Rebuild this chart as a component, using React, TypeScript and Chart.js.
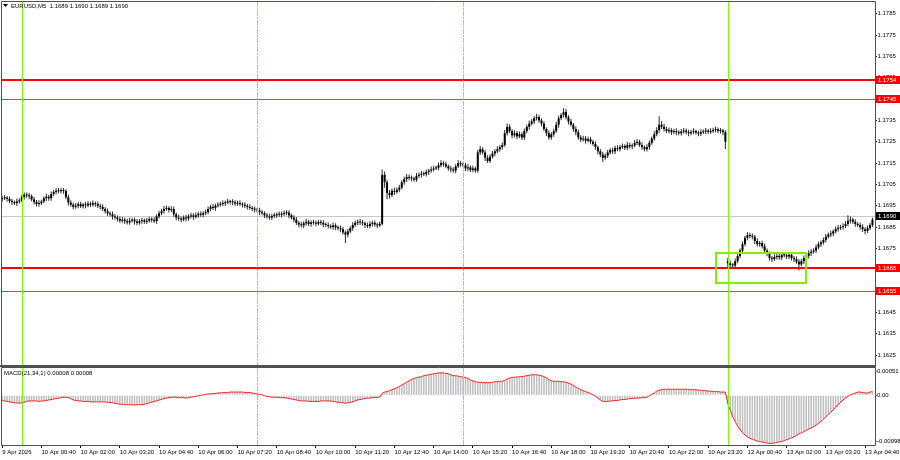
import React, { useEffect, useRef } from "react";
import { Chart, registerables } from "chart.js";

Chart.register(...registerables);

const FONT_FAMILY = "'Liberation Sans', Arial, sans-serif";
const FONT_SIZE = 6;

const symbolTitle = "EURUSD,M5";
const lastQuote = "1.1689 1.1690 1.1689 1.1690";
const macdTitle = "MACD(21,34,1) 0.00008 0.00008";

// time axis labels, one every 16 five-minute bars
const timeLabels = [
  "9 Apr 2026", "10 Apr 00:40", "10 Apr 02:00", "10 Apr 03:20", "10 Apr 04:40", "10 Apr 06:00",
  "10 Apr 07:20", "10 Apr 08:40", "10 Apr 10:00", "10 Apr 11:20", "10 Apr 12:40", "10 Apr 14:00",
  "10 Apr 15:20", "10 Apr 16:40", "10 Apr 18:00", "10 Apr 19:20", "10 Apr 20:40", "10 Apr 22:00",
  "10 Apr 23:20", "13 Apr 00:40", "13 Apr 02:00", "13 Apr 03:20", "13 Apr 04:40",
];
const barsPerLabel = 16;

const priceTicks = [
  1.1625, 1.1635, 1.1645, 1.1655, 1.1665, 1.1675, 1.1685, 1.1695, 1.1705,
  1.1715, 1.1725, 1.1735, 1.1745, 1.1755, 1.1765, 1.1775, 1.1785,
];
const macdTicks = [0.00051, 0, -0.00098];

const opens = [
  1.16980, 1.16985, 1.16988, 1.16982, 1.16972, 1.16968, 1.16962, 1.16970, 1.16975, 1.16990,
  1.17002, 1.16998, 1.16995, 1.16980, 1.16968, 1.16958, 1.16962, 1.16970, 1.16985, 1.16992,
  1.16985, 1.17005, 1.17015, 1.17020, 1.17018, 1.17022, 1.17019, 1.16990, 1.16965, 1.16955,
  1.16945, 1.16950, 1.16958, 1.16948, 1.16955, 1.16952, 1.16960, 1.16955, 1.16962, 1.16958,
  1.16950, 1.16945, 1.16935, 1.16925, 1.16915, 1.16910, 1.16900, 1.16895, 1.16888, 1.16880,
  1.16885, 1.16878, 1.16872, 1.16880, 1.16885, 1.16876, 1.16870, 1.16878, 1.16882, 1.16875,
  1.16880, 1.16888, 1.16884, 1.16878, 1.16900, 1.16915, 1.16925, 1.16935, 1.16940, 1.16930,
  1.16935, 1.16910, 1.16895, 1.16890, 1.16885, 1.16895, 1.16890, 1.16900, 1.16905, 1.16898,
  1.16905, 1.16912, 1.16908, 1.16915, 1.16920, 1.16935, 1.16945, 1.16940, 1.16950, 1.16955,
  1.16958, 1.16962, 1.16965, 1.16970, 1.16968, 1.16966, 1.16960, 1.16963, 1.16958, 1.16955,
  1.16950, 1.16945, 1.16940, 1.16935, 1.16932, 1.16928, 1.16920, 1.16915, 1.16905, 1.16900,
  1.16895, 1.16902, 1.16905, 1.16910, 1.16908, 1.16912, 1.16915, 1.16918, 1.16905, 1.16895,
  1.16885, 1.16870, 1.16862, 1.16858, 1.16868, 1.16875, 1.16865, 1.16872, 1.16870, 1.16866,
  1.16874, 1.16870, 1.16862, 1.16860, 1.16855, 1.16850, 1.16858, 1.16848, 1.16845, 1.16840,
  1.16825, 1.16815, 1.16830, 1.16845, 1.16860, 1.16870, 1.16875, 1.16872, 1.16868, 1.16860,
  1.16855, 1.16865, 1.16870, 1.16862, 1.16858, 1.16865, 1.17095, 1.17060, 1.17010, 1.17000,
  1.17020, 1.17015, 1.17025, 1.17035, 1.17060, 1.17075, 1.17085, 1.17080, 1.17078, 1.17072,
  1.17090, 1.17095, 1.17100, 1.17098, 1.17108, 1.17115, 1.17120, 1.17125, 1.17128, 1.17140,
  1.17150, 1.17145, 1.17135, 1.17125, 1.17120, 1.17115, 1.17135, 1.17150, 1.17145, 1.17140,
  1.17125, 1.17130, 1.17118, 1.17125, 1.17115, 1.17200, 1.17215, 1.17200, 1.17175, 1.17160,
  1.17180, 1.17195, 1.17205, 1.17215, 1.17225, 1.17235, 1.17290, 1.17320, 1.17300, 1.17280,
  1.17290, 1.17275, 1.17285, 1.17270, 1.17300, 1.17320, 1.17335, 1.17345, 1.17360, 1.17365,
  1.17350, 1.17335, 1.17310, 1.17290, 1.17270, 1.17285, 1.17300, 1.17330, 1.17360, 1.17375,
  1.17390, 1.17365, 1.17345, 1.17330, 1.17310, 1.17295, 1.17270, 1.17260, 1.17265, 1.17255,
  1.17262, 1.17250, 1.17240, 1.17225, 1.17205, 1.17190, 1.17175, 1.17185, 1.17200, 1.17210,
  1.17205, 1.17220, 1.17215, 1.17225, 1.17230, 1.17222, 1.17235, 1.17228, 1.17232, 1.17245,
  1.17250, 1.17235, 1.17225, 1.17215, 1.17225, 1.17245, 1.17265, 1.17285, 1.17305, 1.17330,
  1.17320, 1.17310, 1.17300, 1.17305, 1.17295, 1.17300, 1.17295, 1.17290, 1.17298, 1.17302,
  1.17295, 1.17290, 1.17296, 1.17300, 1.17293, 1.17288, 1.17295, 1.17298, 1.17302, 1.17296,
  1.17300, 1.17305, 1.17308, 1.17300, 1.17303, 1.17295,
  1.16690, 1.16680, 1.16672, 1.16670, 1.16690, 1.16715, 1.16740, 1.16770, 1.16800, 1.16812,
  1.16808, 1.16805, 1.16785, 1.16770, 1.16775, 1.16760, 1.16740, 1.16725, 1.16705, 1.16700,
  1.16710, 1.16715, 1.16708, 1.16720, 1.16718, 1.16712, 1.16720, 1.16705, 1.16700, 1.16688,
  1.16675, 1.16690, 1.16705, 1.16715, 1.16728, 1.16735, 1.16740, 1.16755, 1.16770, 1.16778,
  1.16790, 1.16805, 1.16815, 1.16820, 1.16830, 1.16842, 1.16845, 1.16850, 1.16855, 1.16865,
  1.16880, 1.16885, 1.16875, 1.16865, 1.16860, 1.16850, 1.16840, 1.16832, 1.16845, 1.16860,
];

const highs = [
  1.16996, 1.17001, 1.16996, 1.16994, 1.16983, 1.16975, 1.16984, 1.16985, 1.17002, 1.17012,
  1.17012, 1.17010, 1.17003, 1.16991, 1.16977, 1.16976, 1.16978, 1.16995, 1.17006, 1.17001,
  1.17017, 1.17024, 1.17032, 1.17033, 1.17033, 1.17033, 1.17027, 1.17003, 1.16976, 1.16964,
  1.16963, 1.16968, 1.16969, 1.16964, 1.16968, 1.16971, 1.16969, 1.16975, 1.16970, 1.16969,
  1.16960, 1.16957, 1.16944, 1.16937, 1.16923, 1.16923, 1.16911, 1.16904, 1.16900, 1.16897,
  1.16894, 1.16889, 1.16894, 1.16894, 1.16895, 1.16888, 1.16888, 1.16894, 1.16890, 1.16894,
  1.16899, 1.16896, 1.16896, 1.16910, 1.16927, 1.16936, 1.16949, 1.16951, 1.16948, 1.16948,
  1.16946, 1.16919, 1.16908, 1.16900, 1.16904, 1.16908, 1.16910, 1.16917, 1.16915, 1.16918,
  1.16922, 1.16924, 1.16924, 1.16932, 1.16946, 1.16955, 1.16958, 1.16959, 1.16967, 1.16969,
  1.16975, 1.16975, 1.16983, 1.16978, 1.16981, 1.16976, 1.16973, 1.16975, 1.16966, 1.16966,
  1.16960, 1.16957, 1.16949, 1.16947, 1.16940, 1.16941, 1.16930, 1.16924, 1.16917, 1.16912,
  1.16912, 1.16917, 1.16919, 1.16923, 1.16923, 1.16928, 1.16929, 1.16929, 1.16913, 1.16905,
  1.16897, 1.16879, 1.16874, 1.16877, 1.16889, 1.16885, 1.16882, 1.16885, 1.16881, 1.16883,
  1.16884, 1.16882, 1.16872, 1.16871, 1.16863, 1.16872, 1.16868, 1.16857, 1.16857, 1.16851,
  1.16834, 1.16842, 1.16854, 1.16873, 1.16881, 1.16886, 1.16889, 1.16883, 1.16876, 1.16870,
  1.16878, 1.16880, 1.16881, 1.16870, 1.16876, 1.17120, 1.17111, 1.17072, 1.17024, 1.17031,
  1.17034, 1.17036, 1.17049, 1.17069, 1.17087, 1.17099, 1.17096, 1.17092, 1.17086, 1.17103,
  1.17106, 1.17114, 1.17110, 1.17120, 1.17124, 1.17134, 1.17137, 1.17138, 1.17153, 1.17163,
  1.17159, 1.17156, 1.17143, 1.17138, 1.17130, 1.17145, 1.17165, 1.17161, 1.17154, 1.17150,
  1.17144, 1.17139, 1.17137, 1.17133, 1.17212, 1.17230, 1.17224, 1.17211, 1.17187, 1.17191,
  1.17207, 1.17215, 1.17229, 1.17234, 1.17247, 1.17305, 1.17336, 1.17332, 1.17309, 1.17304,
  1.17300, 1.17298, 1.17294, 1.17312, 1.17330, 1.17350, 1.17357, 1.17371, 1.17381, 1.17377,
  1.17359, 1.17346, 1.17318, 1.17303, 1.17296, 1.17311, 1.17344, 1.17373, 1.17385, 1.17407,
  1.17403, 1.17374, 1.17357, 1.17338, 1.17321, 1.17308, 1.17280, 1.17278, 1.17277, 1.17273,
  1.17273, 1.17259, 1.17252, 1.17233, 1.17216, 1.17203, 1.17195, 1.17212, 1.17219, 1.17222,
  1.17231, 1.17232, 1.17235, 1.17242, 1.17238, 1.17249, 1.17245, 1.17242, 1.17258, 1.17263,
  1.17259, 1.17246, 1.17233, 1.17238, 1.17256, 1.17275, 1.17299, 1.17318, 1.17370, 1.17347,
  1.17333, 1.17320, 1.17317, 1.17313, 1.17311, 1.17313, 1.17304, 1.17310, 1.17315, 1.17312,
  1.17306, 1.17306, 1.17313, 1.17308, 1.17303, 1.17309, 1.17308, 1.17314, 1.17310, 1.17313,
  1.17316, 1.17321, 1.17317, 1.17315, 1.17311, 1.17304,
  1.16705, 1.16692, 1.16682, 1.16703, 1.16726, 1.16750, 1.16783, 1.16810, 1.16827, 1.16823,
  1.16820, 1.16814, 1.16798, 1.16785, 1.16786, 1.16773, 1.16750, 1.16736, 1.16714, 1.16723,
  1.16727, 1.16727, 1.16730, 1.16732, 1.16726, 1.16734, 1.16730, 1.16714, 1.16712, 1.16699,
  1.16700, 1.16717, 1.16724, 1.16741, 1.16746, 1.16751, 1.16769, 1.16782, 1.16787, 1.16801,
  1.16818, 1.16825, 1.16833, 1.16839, 1.16853, 1.16860, 1.16861, 1.16868, 1.16879, 1.16905,
  1.16900, 1.16894, 1.16887, 1.16873, 1.16870, 1.16863, 1.16849, 1.16857, 1.16869, 1.16894,
];

const lows = [
  1.16969, 1.16977, 1.16969, 1.16962, 1.16955, 1.16953, 1.16949, 1.16959, 1.16966, 1.16979,
  1.16988, 1.16981, 1.16971, 1.16956, 1.16947, 1.16945, 1.16953, 1.16962, 1.16972, 1.16973,
  1.16974, 1.16995, 1.17003, 1.17009, 1.17008, 1.17006, 1.16980, 1.16951, 1.16945, 1.16934,
  1.16936, 1.16938, 1.16939, 1.16937, 1.16938, 1.16943, 1.16944, 1.16947, 1.16945, 1.16940,
  1.16933, 1.16926, 1.16914, 1.16902, 1.16900, 1.16886, 1.16886, 1.16876, 1.16870, 1.16870,
  1.16865, 1.16862, 1.16861, 1.16872, 1.16862, 1.16859, 1.16861, 1.16866, 1.16866, 1.16864,
  1.16871, 1.16872, 1.16869, 1.16866, 1.16890, 1.16906, 1.16912, 1.16927, 1.16918, 1.16921,
  1.16899, 1.16882, 1.16880, 1.16873, 1.16877, 1.16876, 1.16880, 1.16891, 1.16885, 1.16890,
  1.16894, 1.16898, 1.16896, 1.16907, 1.16910, 1.16924, 1.16930, 1.16927, 1.16942, 1.16945,
  1.16949, 1.16949, 1.16957, 1.16956, 1.16952, 1.16950, 1.16950, 1.16949, 1.16942, 1.16940,
  1.16933, 1.16931, 1.16924, 1.16919, 1.16918, 1.16906, 1.16906, 1.16893, 1.16890, 1.16884,
  1.16883, 1.16892, 1.16894, 1.16899, 1.16895, 1.16902, 1.16906, 1.16892, 1.16886, 1.16873,
  1.16860, 1.16849, 1.16848, 1.16846, 1.16858, 1.16855, 1.16852, 1.16861, 1.16854, 1.16857,
  1.16859, 1.16849, 1.16849, 1.16843, 1.16841, 1.16837, 1.16836, 1.16834, 1.16826, 1.16815,
  1.16776, 1.16802, 1.16821, 1.16833, 1.16852, 1.16859, 1.16860, 1.16858, 1.16846, 1.16846,
  1.16845, 1.16853, 1.16852, 1.16846, 1.16850, 1.16858, 1.17034, 1.16980, 1.16984, 1.16990,
  1.17001, 1.17006, 1.17013, 1.17027, 1.17049, 1.17061, 1.17070, 1.17065, 1.17063, 1.17062,
  1.17080, 1.17082, 1.17089, 1.17087, 1.17094, 1.17105, 1.17110, 1.17116, 1.17116, 1.17131,
  1.17133, 1.17126, 1.17114, 1.17107, 1.17105, 1.17102, 1.17127, 1.17133, 1.17130, 1.17113,
  1.17112, 1.17108, 1.17107, 1.17105, 1.17105, 1.17188, 1.17190, 1.17160, 1.17150, 1.17150,
  1.17171, 1.17182, 1.17197, 1.17203, 1.17212, 1.17226, 1.17279, 1.17291, 1.17266, 1.17270,
  1.17262, 1.17267, 1.17258, 1.17258, 1.17290, 1.17306, 1.17326, 1.17333, 1.17350, 1.17339,
  1.17321, 1.17299, 1.17277, 1.17259, 1.17259, 1.17273, 1.17291, 1.17316, 1.17351, 1.17364,
  1.17354, 1.17331, 1.17321, 1.17297, 1.17280, 1.17259, 1.17249, 1.17251, 1.17241, 1.17246,
  1.17238, 1.17231, 1.17213, 1.17191, 1.17179, 1.17155, 1.17166, 1.17174, 1.17190, 1.17194,
  1.17193, 1.17205, 1.17204, 1.17216, 1.17211, 1.17211, 1.17218, 1.17215, 1.17224, 1.17234,
  1.17225, 1.17212, 1.17205, 1.17204, 1.17212, 1.17236, 1.17255, 1.17276, 1.17292, 1.17310,
  1.17298, 1.17291, 1.17289, 1.17282, 1.17286, 1.17281, 1.17281, 1.17279, 1.17289, 1.17284,
  1.17276, 1.17281, 1.17285, 1.17284, 1.17276, 1.17277, 1.17286, 1.17285, 1.17287, 1.17286,
  1.17291, 1.17293, 1.17291, 1.17289, 1.17281, 1.17216,
  1.16661, 1.16657, 1.16658, 1.16659, 1.16681, 1.16704, 1.16728, 1.16760, 1.16788, 1.16798,
  1.16793, 1.16771, 1.16759, 1.16758, 1.16750, 1.16725, 1.16713, 1.16694, 1.16686, 1.16691,
  1.16698, 1.16697, 1.16696, 1.16708, 1.16700, 1.16701, 1.16694, 1.16685, 1.16678, 1.16647,
  1.16665, 1.16677, 1.16696, 1.16703, 1.16714, 1.16725, 1.16729, 1.16746, 1.16757, 1.16768,
  1.16778, 1.16796, 1.16804, 1.16807, 1.16820, 1.16828, 1.16836, 1.16838, 1.16845, 1.16854,
  1.16867, 1.16864, 1.16852, 1.16850, 1.16838, 1.16827, 1.16816, 1.16822, 1.16836, 1.16850,
];

const closes = [
  1.16985, 1.16988, 1.16982, 1.16972, 1.16968, 1.16962, 1.16970, 1.16975, 1.16990, 1.17002,
  1.16998, 1.16995, 1.16980, 1.16968, 1.16958, 1.16962, 1.16970, 1.16985, 1.16992, 1.16985,
  1.17005, 1.17015, 1.17020, 1.17018, 1.17022, 1.17019, 1.16990, 1.16965, 1.16955, 1.16945,
  1.16950, 1.16958, 1.16948, 1.16955, 1.16952, 1.16960, 1.16955, 1.16962, 1.16958, 1.16950,
  1.16945, 1.16935, 1.16925, 1.16915, 1.16910, 1.16900, 1.16895, 1.16888, 1.16880, 1.16885,
  1.16878, 1.16872, 1.16880, 1.16885, 1.16876, 1.16870, 1.16878, 1.16882, 1.16875, 1.16880,
  1.16888, 1.16884, 1.16878, 1.16900, 1.16915, 1.16925, 1.16935, 1.16940, 1.16930, 1.16935,
  1.16910, 1.16895, 1.16890, 1.16885, 1.16895, 1.16890, 1.16900, 1.16905, 1.16898, 1.16905,
  1.16912, 1.16908, 1.16915, 1.16920, 1.16935, 1.16945, 1.16940, 1.16950, 1.16955, 1.16958,
  1.16962, 1.16965, 1.16970, 1.16968, 1.16966, 1.16960, 1.16963, 1.16958, 1.16955, 1.16950,
  1.16945, 1.16940, 1.16935, 1.16932, 1.16928, 1.16920, 1.16915, 1.16905, 1.16900, 1.16895,
  1.16902, 1.16905, 1.16910, 1.16908, 1.16912, 1.16915, 1.16918, 1.16905, 1.16895, 1.16885,
  1.16870, 1.16862, 1.16858, 1.16868, 1.16875, 1.16865, 1.16872, 1.16870, 1.16866, 1.16874,
  1.16870, 1.16862, 1.16860, 1.16855, 1.16850, 1.16858, 1.16848, 1.16845, 1.16840, 1.16825,
  1.16815, 1.16830, 1.16845, 1.16860, 1.16870, 1.16875, 1.16872, 1.16868, 1.16860, 1.16855,
  1.16865, 1.16870, 1.16862, 1.16858, 1.16865, 1.17095, 1.17060, 1.17010, 1.17000, 1.17020,
  1.17015, 1.17025, 1.17035, 1.17060, 1.17075, 1.17085, 1.17080, 1.17078, 1.17072, 1.17090,
  1.17095, 1.17100, 1.17098, 1.17108, 1.17115, 1.17120, 1.17125, 1.17128, 1.17140, 1.17150,
  1.17145, 1.17135, 1.17125, 1.17120, 1.17115, 1.17135, 1.17150, 1.17145, 1.17140, 1.17125,
  1.17130, 1.17118, 1.17125, 1.17115, 1.17200, 1.17215, 1.17200, 1.17175, 1.17160, 1.17180,
  1.17195, 1.17205, 1.17215, 1.17225, 1.17235, 1.17290, 1.17320, 1.17300, 1.17280, 1.17290,
  1.17275, 1.17285, 1.17270, 1.17300, 1.17320, 1.17335, 1.17345, 1.17360, 1.17365, 1.17350,
  1.17335, 1.17310, 1.17290, 1.17270, 1.17285, 1.17300, 1.17330, 1.17360, 1.17375, 1.17390,
  1.17365, 1.17345, 1.17330, 1.17310, 1.17295, 1.17270, 1.17260, 1.17265, 1.17255, 1.17262,
  1.17250, 1.17240, 1.17225, 1.17205, 1.17190, 1.17175, 1.17185, 1.17200, 1.17210, 1.17205,
  1.17220, 1.17215, 1.17225, 1.17230, 1.17222, 1.17235, 1.17228, 1.17232, 1.17245, 1.17250,
  1.17235, 1.17225, 1.17215, 1.17225, 1.17245, 1.17265, 1.17285, 1.17305, 1.17330, 1.17320,
  1.17310, 1.17300, 1.17305, 1.17295, 1.17300, 1.17295, 1.17290, 1.17298, 1.17302, 1.17295,
  1.17290, 1.17296, 1.17300, 1.17293, 1.17288, 1.17295, 1.17298, 1.17302, 1.17296, 1.17300,
  1.17305, 1.17308, 1.17300, 1.17303, 1.17295, 1.17250,
  1.16680, 1.16672, 1.16670, 1.16690, 1.16715, 1.16740, 1.16770, 1.16800, 1.16812, 1.16808,
  1.16805, 1.16785, 1.16770, 1.16775, 1.16760, 1.16740, 1.16725, 1.16705, 1.16700, 1.16710,
  1.16715, 1.16708, 1.16720, 1.16718, 1.16712, 1.16720, 1.16705, 1.16700, 1.16688, 1.16675,
  1.16690, 1.16705, 1.16715, 1.16728, 1.16735, 1.16740, 1.16755, 1.16770, 1.16778, 1.16790,
  1.16805, 1.16815, 1.16820, 1.16830, 1.16842, 1.16845, 1.16850, 1.16855, 1.16865, 1.16880,
  1.16885, 1.16875, 1.16865, 1.16860, 1.16850, 1.16840, 1.16832, 1.16845, 1.16860, 1.16885,
];

// MACD(21,34,1): main line (signal with period 1 equals main)
const macdValues = [
  -0.00011, -0.00012, -0.00013, -0.00014, -0.00015, -0.00016, -0.00016, -0.00017, -0.00016, -0.00015,
  -0.00013, -0.00012, -0.00012, -0.00012, -0.00012, -0.00013, -0.00012, -0.00012, -0.00011, -0.00010,
  -0.00009, -0.00008, -0.00007, -0.00006, -0.00005, -0.00004, -0.00004, -0.00005, -0.00007, -0.00010,
  -0.00011, -0.00012, -0.00012, -0.00013, -0.00013, -0.00013, -0.00014, -0.00014, -0.00014, -0.00014,
  -0.00014, -0.00014, -0.00014, -0.00015, -0.00015, -0.00016, -0.00017, -0.00018, -0.00019, -0.00019,
  -0.00020, -0.00020, -0.00020, -0.00020, -0.00021, -0.00020, -0.00020, -0.00020, -0.00019, -0.00018,
  -0.00016, -0.00015, -0.00013, -0.00012, -0.00010, -0.00009, -0.00007, -0.00006, -0.00005, -0.00004,
  -0.00004, -0.00004, -0.00005, -0.00005, -0.00005, -0.00006, -0.00005, -0.00004, -0.00003, -0.00002,
  -0.00001, 0, 0.00001, 0.00002, 0.00003, 0.00003, 0.00004, 0.00004, 0.00005, 0.00005,
  0.00006, 0.00006, 0.00006, 0.00007, 0.00007, 0.00007, 0.00007, 0.00007, 0.00007, 0.00006,
  0.00006, 0.00006, 0.00005, 0.00004, 0.00003, 0.00002, 0.00001, -0.00001, -0.00002, -0.00003,
  -0.00004, -0.00004, -0.00004, -0.00005, -0.00005, -0.00005, -0.00006, -0.00007, -0.00008, -0.00009,
  -0.00010, -0.00011, -0.00012, -0.00012, -0.00012, -0.00013, -0.00013, -0.00013, -0.00013, -0.00013,
  -0.00012, -0.00012, -0.00012, -0.00012, -0.00012, -0.00013, -0.00014, -0.00015, -0.00015, -0.00016,
  -0.00017, -0.00016, -0.00015, -0.00014, -0.00012, -0.00010, -0.00009, -0.00008, -0.00007, -0.00006,
  -0.00006, -0.00005, -0.00005, -0.00004, -0.00004, 0.00004, 0.00007, 0.00008, 0.00010, 0.00012,
  0.00014, 0.00016, 0.00019, 0.00022, 0.00025, 0.00028, 0.00031, 0.00034, 0.00036, 0.00038,
  0.00039, 0.00040, 0.00042, 0.00043, 0.00044, 0.00045, 0.00046, 0.00047, 0.00048, 0.00048,
  0.00048, 0.00047, 0.00046, 0.00044, 0.00042, 0.00042, 0.00041, 0.00040, 0.00039, 0.00038,
  0.00036, 0.00033, 0.00031, 0.00029, 0.00028, 0.00028, 0.00027, 0.00027, 0.00027, 0.00027,
  0.00028, 0.00029, 0.00029, 0.00030, 0.00030, 0.00032, 0.00035, 0.00037, 0.00038, 0.00039,
  0.00039, 0.00040, 0.00040, 0.00041, 0.00042, 0.00043, 0.00044, 0.00044, 0.00044, 0.00043,
  0.00042, 0.00040, 0.00037, 0.00034, 0.00031, 0.00030, 0.00030, 0.00030, 0.00029, 0.00029,
  0.00028, 0.00026, 0.00024, 0.00021, 0.00018, 0.00015, 0.00012, 0.00010, 0.00008, 0.00006,
  0.00004, 0.00001, -0.00002, -0.00006, -0.00010, -0.00013, -0.00013, -0.00013, -0.00012, -0.00012,
  -0.00011, -0.00011, -0.00010, -0.00009, -0.00009, -0.00008, -0.00007, -0.00007, -0.00006, -0.00006,
  -0.00006, -0.00005, -0.00005, -0.00004, -0.00001, 0.00002, 0.00005, 0.00009, 0.00011, 0.00012,
  0.00013, 0.00013, 0.00013, 0.00013, 0.00013, 0.00013, 0.00013, 0.00013, 0.00013, 0.00013,
  0.00013, 0.00012, 0.00012, 0.00012, 0.00011, 0.00011, 0.00010, 0.00010, 0.00009, 0.00009,
  0.00008, 0.00008, 0.00008, 0.00007, 0.00007, 0.00007,
  -0.00018, -0.00032, -0.00046, -0.00056, -0.00066, -0.00074, -0.00080, -0.00085, -0.00089, -0.00092,
  -0.00094, -0.00096, -0.00098, -0.00099, -0.00100, -0.00101, -0.00102, -0.00103, -0.00103, -0.00102,
  -0.00101, -0.00100, -0.00099, -0.00097, -0.00095, -0.00093, -0.00091, -0.00089, -0.00086, -0.00083,
  -0.00080, -0.00078, -0.00075, -0.00072, -0.00070, -0.00067, -0.00064, -0.00060, -0.00056, -0.00051,
  -0.00046, -0.00041, -0.00036, -0.00031, -0.00025, -0.00020, -0.00015, -0.00010, -0.00006, -0.00002,
  0.00001, 0.00003, 0.00005, 0.00007, 0.00007, 0.00006, 0.00005, 0.00005, 0.00007, 0.00008,
];

// chart objects
const bidPrice = 1.169;
const majorLevels = [1.1754, 1.1666];
const minorLevels = [1.1745, 1.1655];
const dayStartBars = [8, 296];
const sessionBars = [104, 188];
const zoneBars = [291, 328];
const zonePrices = [1.1673, 1.1659];

// visible ranges
const barRange = [-0.07, 356.04];
const priceRange = [1.16199, 1.17905];
const macdRange = [-0.001085, 0.000585];

const GREEN = "#7CFC00";
const RED = "#FF0000";
const FRAME = "#505050";
const font = () => `${FONT_SIZE}px ${FONT_FAMILY}`;

function clipArea(ctx: CanvasRenderingContext2D, a: any) {
  ctx.beginPath();
  ctx.rect(a.left, a.top, a.right - a.left, a.bottom - a.top);
  ctx.clip();
}

function drawVerticals(chart: any) {
  const { ctx, chartArea: a, scales } = chart;
  const x = scales.x;
  ctx.save();
  clipArea(ctx, a);
  ctx.strokeStyle = GREEN;
  ctx.lineWidth = 1;
  dayStartBars.forEach((b) => {
    const px = Math.round(x.getPixelForValue(b)) + 0.5;
    ctx.beginPath();
    ctx.moveTo(px, a.top);
    ctx.lineTo(px, a.bottom);
    ctx.stroke();
  });
  ctx.setLineDash([5, 1, 2, 1]);
  sessionBars.forEach((b) => {
    const px = Math.round(x.getPixelForValue(b)) + 0.5;
    ctx.beginPath();
    ctx.moveTo(px, a.top);
    ctx.lineTo(px, a.bottom);
    ctx.stroke();
  });
  ctx.restore();
}

function drawFrame(chart: any, thickBottom: boolean) {
  const { ctx, chartArea: a } = chart;
  ctx.save();
  ctx.strokeStyle = FRAME;
  ctx.lineWidth = 1;
  const l = Math.round(a.left) - 0.5;
  const t = Math.round(a.top) - 0.5;
  const r = Math.round(a.right) + 0.5;
  const b = Math.round(a.bottom) - 0.5;
  ctx.beginPath();
  ctx.moveTo(l, b);
  ctx.lineTo(l, t);
  ctx.lineTo(r, t);
  ctx.lineTo(r, b);
  ctx.stroke();
  if (thickBottom) {
    ctx.fillStyle = FRAME;
    ctx.fillRect(0, Math.round(a.bottom) - 1, r + 0.5, 2);
  } else {
    ctx.beginPath();
    ctx.moveTo(l, b);
    ctx.lineTo(r, b);
    ctx.stroke();
  }
  ctx.restore();
}

function axisTag(chart: any, value: number, bg: string) {
  const { ctx, chartArea: a, scales } = chart;
  const y = scales.y.getPixelForValue(value);
  ctx.save();
  ctx.fillStyle = bg;
  ctx.fillRect(Math.round(a.right) + 1, Math.round(y) - 4, 25, 8);
  ctx.fillStyle = "#ffffff";
  ctx.font = font();
  ctx.textBaseline = "middle";
  ctx.textAlign = "left";
  ctx.fillText(value.toFixed(4), Math.round(a.right) + 3, Math.round(y) + 0.5);
  ctx.restore();
}

const priceDecor = {
  id: "priceDecor",
  beforeDatasetsDraw(chart: any) {
    const { ctx, chartArea: a, scales } = chart;
    const y = Math.round(scales.y.getPixelForValue(bidPrice)) + 0.5;
    ctx.save();
    ctx.strokeStyle = "#C8C8C8";
    ctx.lineWidth = 1;
    ctx.beginPath();
    ctx.moveTo(a.left, y);
    ctx.lineTo(a.right, y);
    ctx.stroke();
    ctx.restore();
  },
  afterDatasetsDraw(chart: any) {
    const { ctx, chartArea: a, scales } = chart;
    const ys = scales.y;
    const xs = scales.x;
    ctx.save();
    clipArea(ctx, a);
    ctx.strokeStyle = RED;
    ctx.lineWidth = 2;
    majorLevels.forEach((p) => {
      const y = Math.round(ys.getPixelForValue(p));
      ctx.beginPath();
      ctx.moveTo(a.left, y);
      ctx.lineTo(a.right, y);
      ctx.stroke();
    });
    ctx.strokeStyle = "#FF3A3A";
    ctx.lineWidth = 1;
    minorLevels.forEach((p) => {
      const y = Math.round(ys.getPixelForValue(p)) + 0.5;
      ctx.beginPath();
      ctx.moveTo(a.left, y);
      ctx.lineTo(a.right, y);
      ctx.stroke();
    });
    // highlighted zone
    const zx1 = Math.round(xs.getPixelForValue(zoneBars[0]));
    const zx2 = Math.round(xs.getPixelForValue(zoneBars[1]));
    const zy1 = Math.round(ys.getPixelForValue(zonePrices[0]));
    const zy2 = Math.round(ys.getPixelForValue(zonePrices[1]));
    ctx.strokeStyle = "#80F000";
    ctx.lineWidth = 2;
    ctx.strokeRect(zx1, zy1, zx2 - zx1, zy2 - zy1);
    ctx.restore();
    drawVerticals(chart);
    drawFrame(chart, true);
    // header
    ctx.save();
    ctx.fillStyle = "#000";
    ctx.beginPath();
    ctx.moveTo(3, 4);
    ctx.lineTo(8, 4);
    ctx.lineTo(5.5, 7);
    ctx.closePath();
    ctx.fill();
    ctx.font = font();
    ctx.textBaseline = "middle";
    ctx.fillText(`${symbolTitle}  ${lastQuote}`, 11, 6);
    ctx.restore();
  },
  afterDraw(chart: any) {
    majorLevels.forEach((p) => axisTag(chart, p, RED));
    minorLevels.forEach((p) => axisTag(chart, p, RED));
    axisTag(chart, bidPrice, "#000000");
  },
};

const macdDecor = {
  id: "macdDecor",
  afterDatasetsDraw(chart: any) {
    const { ctx } = chart;
    drawVerticals(chart);
    drawFrame(chart, false);
    ctx.save();
    ctx.fillStyle = "#000";
    ctx.font = font();
    ctx.textBaseline = "middle";
    ctx.fillText(macdTitle, 4, 6);
    ctx.restore();
  },
};

const tickFont = { family: FONT_FAMILY, size: FONT_SIZE };

// y scales: no extra label padding, so the plot area is exactly the panel
const fitY = (s: any) => {
  s.width = 25;
  s.paddingTop = 0;
  s.paddingBottom = 0;
};

function priceConfig(): any {
  const idx = closes.map((_, i) => i);
  return {
    type: "bar",
    data: {
      datasets: [
        {
          data: idx.map((i) => ({ x: i, y: [lows[i], highs[i]] })),
          backgroundColor: "#2a2a2a",
          barThickness: 1,
          grouped: false,
          inflateAmount: 0,
          order: 2,
        },
        {
          data: idx.map((i) => ({ x: i, y: [Math.min(opens[i], closes[i]), Math.max(opens[i], closes[i])] })),
          backgroundColor: "#000000",
          barThickness: 2,
          minBarLength: 1,
          grouped: false,
          inflateAmount: 0,
          order: 1,
        },
      ],
    },
    options: {
      animation: false,
      responsive: false,
      devicePixelRatio: 1,
      layout: { padding: { left: 2, top: 2, right: 0, bottom: 1 } },
      plugins: { legend: { display: false }, tooltip: { enabled: false } },
      scales: {
        x: { type: "linear", offset: false, min: barRange[0], max: barRange[1], display: false },
        y: {
          position: "right",
          min: priceRange[0],
          max: priceRange[1],
          afterBuildTicks: (s: any) => {
            s.ticks = priceTicks.map((v) => ({ value: v }));
          },
          afterFit: fitY,
          ticks: {
            font: tickFont,
            color: "#000",
            padding: 0.5,
            autoSkip: false,
            callback: (v: any) => Number(v).toFixed(4),
          },
          grid: { drawOnChartArea: false, tickLength: 2, color: "#000" },
          border: { display: false },
        },
      },
    },
    plugins: [priceDecor],
  };
}

function macdConfig(): any {
  const idx = macdValues.map((_, i) => i);
  const pts = idx.map((i) => ({ x: i, y: macdValues[i] }));
  return {
    type: "bar",
    data: {
      datasets: [
        {
          type: "line",
          data: pts,
          borderColor: "#FF2020",
          borderWidth: 1,
          pointRadius: 0,
          tension: 0,
          order: 0,
        },
        {
          data: pts,
          backgroundColor: "#BEBEBE",
          barThickness: 1.5,
          grouped: false,
          inflateAmount: 0,
          order: 1,
        },
      ],
    },
    options: {
      animation: false,
      responsive: false,
      devicePixelRatio: 1,
      layout: { padding: { left: 2, top: 1, right: 0, bottom: 0 } },
      plugins: { legend: { display: false }, tooltip: { enabled: false } },
      scales: {
        x: {
          type: "linear",
          offset: false,
          min: barRange[0],
          max: barRange[1],
          afterBuildTicks: (s: any) => {
            s.ticks = timeLabels.map((_, j) => ({ value: j * barsPerLabel }));
          },
          afterFit: (s: any) => {
            s.height = 14;
            s.paddingLeft = 0;
            s.paddingRight = 0;
          },
          ticks: {
            font: tickFont,
            color: "#000",
            align: "start",
            maxRotation: 0,
            minRotation: 0,
            autoSkip: false,
            padding: 1,
            callback: (v: any) => timeLabels[Math.round(Number(v) / barsPerLabel)],
          },
          grid: { drawOnChartArea: false, offset: false, tickLength: 2, color: "#000" },
          border: { display: false },
        },
        y: {
          position: "right",
          min: macdRange[0],
          max: macdRange[1],
          afterBuildTicks: (s: any) => {
            s.ticks = macdTicks.map((v) => ({ value: v }));
          },
          afterFit: fitY,
          ticks: {
            font: tickFont,
            color: "#000",
            padding: 0.5,
            autoSkip: false,
            callback: (v: any) => (Number(v) === 0 ? "0.00" : Number(v).toFixed(5)),
          },
          grid: { drawOnChartArea: false, tickLength: 1.5, color: "#000" },
          border: { display: false },
        },
      },
    },
    plugins: [macdDecor],
  };
}

export default function App() {
  const priceRef = useRef<HTMLCanvasElement>(null);
  const macdRef = useRef<HTMLCanvasElement>(null);

  useEffect(() => {
    const c1 = new Chart(priceRef.current as HTMLCanvasElement, priceConfig());
    const c2 = new Chart(macdRef.current as HTMLCanvasElement, macdConfig());
    return () => {
      c1.destroy();
      c2.destroy();
    };
  }, []);

  return (
    <div style={{ position: "fixed", left: 0, top: 0, width: 900, height: 460, background: "#ffffff", overflow: "hidden" }}>
      <canvas
        ref={priceRef}
        width={900}
        height={367}
        style={{ position: "absolute", left: 0, top: 0, width: 900, height: 367, display: "block" }}
      />
      <canvas
        ref={macdRef}
        width={900}
        height={93}
        style={{ position: "absolute", left: 0, top: 367, width: 900, height: 93, display: "block" }}
      />
    </div>
  );
}
